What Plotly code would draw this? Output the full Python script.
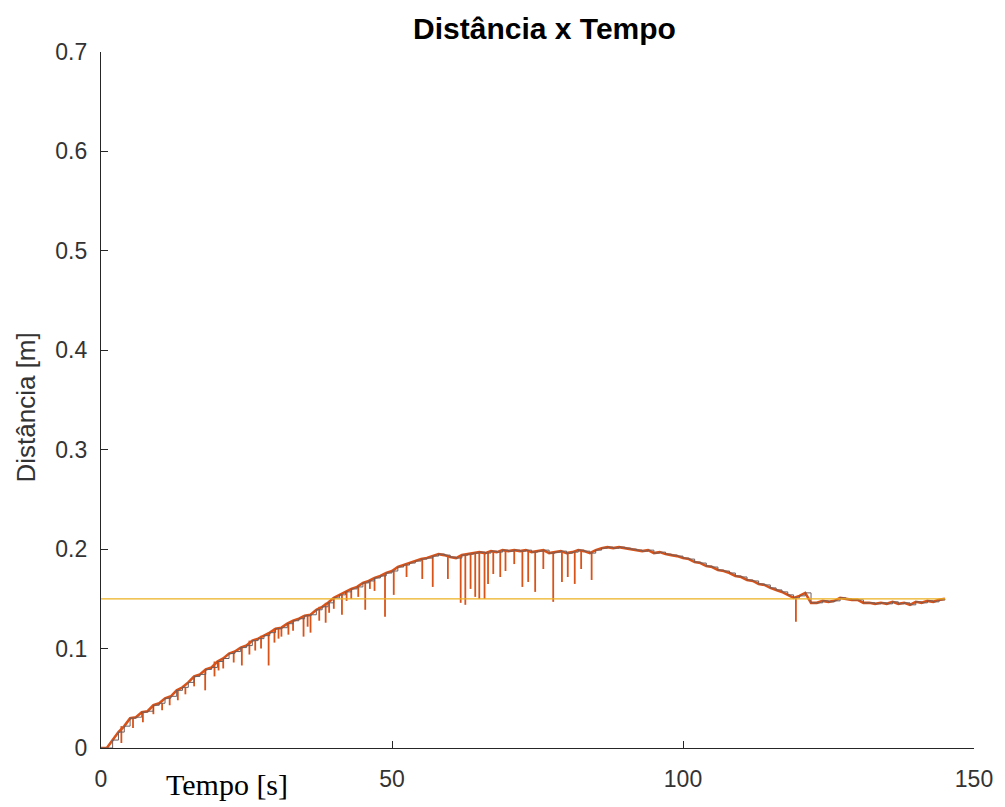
import plotly.graph_objects as go

# ---- data ----
tempo = [0, 1, 2, 3, 4, 5, 6, 7, 8, 9,
         10, 11, 12, 13, 14, 15, 16, 17, 18, 19,
         20, 21, 22, 23, 24, 25, 26, 27, 28, 29,
         30, 31, 32, 33, 34, 35, 36, 37, 38, 39,
         40, 41, 42, 43, 44, 45, 46, 47, 48, 49,
         50, 51, 52, 53, 54, 55, 56, 57, 58, 59,
         60, 61, 62, 63, 64, 65, 66, 67, 68, 69,
         70, 71, 72, 73, 74, 75, 76, 77, 78, 79,
         80, 81, 82, 83, 84, 85, 86, 87, 88, 89,
         90, 91, 92, 93, 94, 95, 96, 97, 98, 99,
         100, 101, 102, 103, 104, 105, 106, 107, 108, 109,
         110, 111, 112, 113, 114, 115, 116, 117, 118, 119,
         120, 121, 122, 123, 124, 125, 126, 127, 128, 129,
         130, 131, 132, 133, 134, 135, 136, 137, 138, 139,
         140, 141, 142, 143, 144, 145]

distancia = [0.000, 0.000, 0.008, 0.016, 0.022, 0.030, 0.031, 0.036, 0.037, 0.043,
             0.045, 0.050, 0.052, 0.058, 0.061, 0.066, 0.072, 0.074, 0.079, 0.081,
             0.087, 0.090, 0.095, 0.097, 0.101, 0.103, 0.108, 0.110, 0.113, 0.116,
             0.120, 0.121, 0.125, 0.128, 0.130, 0.133, 0.134, 0.139, 0.142, 0.146,
             0.151, 0.154, 0.157, 0.160, 0.162, 0.166, 0.168, 0.171, 0.173, 0.176,
             0.178, 0.182, 0.184, 0.186, 0.188, 0.190, 0.191, 0.193, 0.195, 0.194,
             0.192, 0.191, 0.194, 0.195, 0.196, 0.197, 0.196, 0.198, 0.197, 0.199,
             0.198, 0.199, 0.198, 0.199, 0.197, 0.198, 0.199, 0.196, 0.197, 0.198,
             0.196, 0.197, 0.199, 0.198, 0.196, 0.199, 0.201, 0.202, 0.201, 0.202,
             0.201, 0.200, 0.199, 0.198, 0.199, 0.196, 0.197, 0.195, 0.194, 0.193,
             0.191, 0.190, 0.187, 0.186, 0.183, 0.182, 0.179, 0.178, 0.176, 0.173,
             0.172, 0.169, 0.168, 0.165, 0.164, 0.161, 0.159, 0.157, 0.154, 0.151,
             0.153, 0.156, 0.146, 0.146, 0.148, 0.147, 0.148, 0.151, 0.150, 0.149,
             0.149, 0.146, 0.146, 0.145, 0.146, 0.145, 0.147, 0.145, 0.146, 0.144,
             0.147, 0.146, 0.148, 0.147, 0.149, 0.150]

# downward glitches of the raw measurement (time, lowest value)
pico_t = [3.5, 5.5, 7.2, 9.0, 10.5, 11.8, 13.2, 14.5, 16.0, 17.9,
          19.5, 20.2, 21.0, 22.8, 24.2, 25.5, 26.5, 27.5, 28.8, 29.8,
          30.5, 31.0, 32.2, 33.0, 34.8, 35.5, 36.0, 37.5, 38.6, 39.2,
          40.0, 41.4, 42.2, 43.0, 44.2, 45.4, 46.2, 47.0, 48.8, 50.3,
          52.5, 55.2, 57.0, 59.6, 61.8, 62.6, 63.5, 64.3, 65.0, 65.9,
          66.5, 67.4, 68.6, 69.5, 71.0, 72.4, 73.4, 74.6, 76.0, 77.7,
          79.2, 80.2, 81.4, 82.5, 84.3, 119.4]
pico_min = [0.005, 0.020, 0.026, 0.034, 0.038, 0.043, 0.048, 0.054, 0.062, 0.058,
            0.072, 0.078, 0.080, 0.086, 0.083, 0.094, 0.098, 0.100, 0.083, 0.106,
            0.110, 0.112, 0.114, 0.118, 0.112, 0.122, 0.116, 0.128, 0.126, 0.136,
            0.140, 0.134, 0.148, 0.150, 0.152, 0.139, 0.160, 0.158, 0.132, 0.154,
            0.172, 0.170, 0.162, 0.170, 0.146, 0.144, 0.160, 0.152, 0.150, 0.150,
            0.165, 0.175, 0.172, 0.178, 0.185, 0.162, 0.167, 0.157, 0.180, 0.147,
            0.167, 0.172, 0.165, 0.180, 0.169, 0.127]

referencia_t = [0, 145]
referencia = [0.15, 0.15]

x_ticks = [0, 50, 100, 150]
y_ticks = [0, 0.1, 0.2, 0.3, 0.4, 0.5, 0.6, 0.7]
y_ticklabels = ["0", "0.1", "0.2", "0.3", "0.4", "0.5", "0.6", "0.7"]

# ---- build spike segments from the data ----
sx, sy = [], []
for t, v in zip(pico_t, pico_min):
    top = distancia[int(round(t))]
    sx += [t, t, None]
    sy += [top, v, None]

ORANGE = "#D95319"
GRAY = "#6f5e5e"
YELLOW = "#EDB120"
AX = "#262626"
LBL = "#333333"

fig = go.Figure()
fig.add_trace(go.Scatter(x=tempo, y=distancia, mode="lines",
                         line=dict(color=ORANGE, width=2.6), showlegend=False))
fig.add_trace(go.Scatter(x=sx, y=sy, mode="lines",
                         line=dict(color=ORANGE, width=1.8), showlegend=False))
fig.add_trace(go.Scatter(x=tempo, y=distancia, mode="lines",
                         line=dict(color=GRAY, width=1.0, shape="hv"), showlegend=False))
fig.add_trace(go.Scatter(x=referencia_t, y=referencia, mode="lines",
                         line=dict(color=YELLOW, width=1.3), showlegend=False))

tickfont = dict(family="Liberation Sans, Arial, sans-serif", size=23, color=LBL)

fig.update_layout(
    width=1005, height=807,
    margin=dict(l=101, r=25, t=52, b=59),
    paper_bgcolor="white", plot_bgcolor="white",
    title=dict(text="<b>Distância x Tempo</b>", x=(101 + 879 / 2) / 1005 + 0.004, xanchor="center",
               y=1 - 28 / 807, yanchor="middle",
               font=dict(family="Liberation Sans, Arial, sans-serif", size=30, color="#000000")),
    xaxis=dict(range=[0, 150], tickvals=x_ticks, ticks="inside", ticklen=7,
               tickwidth=1.2, tickcolor=AX, showline=True, linecolor=AX, linewidth=1.4,
               showgrid=False, zeroline=False, tickfont=tickfont, ticklabelstandoff=10),
    yaxis=dict(range=[0, 0.7], tickvals=y_ticks, ticktext=y_ticklabels, ticks="inside",
               ticklen=7, tickwidth=1.2, tickcolor=AX, showline=True, linecolor=AX,
               linewidth=1.4, showgrid=False, zeroline=False, tickfont=tickfont,
               ticklabelstandoff=8),
    annotations=[
        dict(text="Distância [m]", textangle=-90, xref="paper", yref="paper",
             x=(25 - 101) / 879, y=0.5 - 8 / 696, xanchor="center", yanchor="middle",
             showarrow=False,
             font=dict(family="Liberation Sans, Arial, sans-serif", size=26, color=LBL)),
        dict(text="Tempo [s]", xref="paper", yref="paper",
             x=(165 - 101) / 879, y=(748 - 767) / 696, xanchor="left", yanchor="top",
             showarrow=False, borderpad=0,
             font=dict(family="Liberation Serif, Times New Roman, serif", size=30, color="#000000")),
    ],
)

fig.write_html("out.html")
